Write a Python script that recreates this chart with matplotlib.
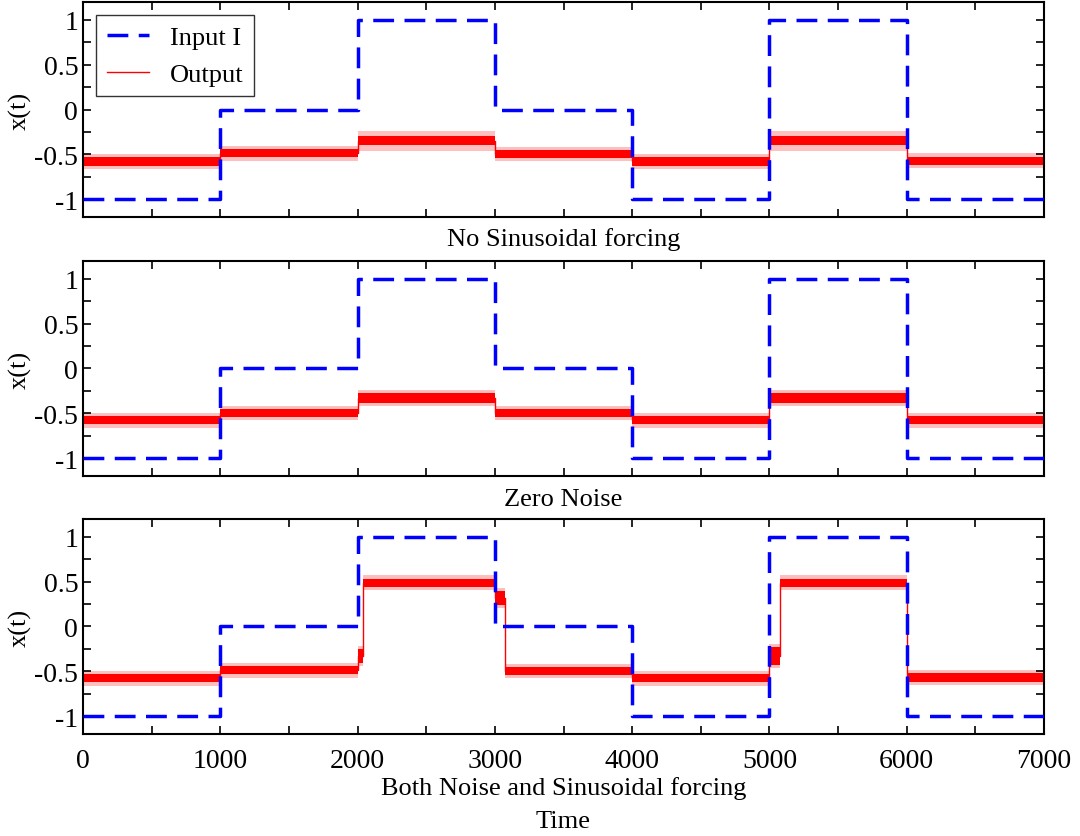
"""
Step input vs. noisy output, three forcing cases stacked.
"""
import numpy as np
import matplotlib.pyplot as plt
from matplotlib.ticker import MultipleLocator

plt.rcParams['font.family'] = ['Liberation Serif', 'DejaVu Serif']

# input signal (same in every panel)
in_edges = [0, 1000, 2000, 3000, 4000, 5000, 6000, 7000]
input_I = [-1, 0, 1, 0, -1, 1, -1]

# output, panel 1: no sinusoidal forcing
out1_edges = [0, 1000, 2000, 3000, 4000, 5000, 6000, 7000]
out1_mid = [-0.58, -0.49, -0.35, -0.50, -0.58, -0.35, -0.57]
out1_core = [0.045, 0.045, 0.05, 0.045, 0.045, 0.05, 0.045]
out1_spike = [0.08, 0.08, 0.11, 0.08, 0.08, 0.11, 0.08]

# output, panel 2: zero noise
out2_edges = [0, 1000, 2000, 3000, 4000, 5000, 6000, 7000]
out2_mid = [-0.58, -0.50, -0.33, -0.50, -0.58, -0.33, -0.58]
out2_core = [0.045, 0.045, 0.055, 0.045, 0.045, 0.055, 0.045]
out2_spike = [0.08, 0.08, 0.09, 0.08, 0.08, 0.09, 0.08]

# output, panel 3: both noise and sinusoidal forcing
out3_edges = [0, 1000, 2000, 2040, 3000, 3070, 4000, 5000, 5075, 6000, 7000]
out3_mid = [-0.58, -0.49, -0.33, 0.49, 0.32, -0.50, -0.58, -0.33, 0.49, -0.57]
out3_core = [0.045, 0.045, 0.08, 0.045, 0.08, 0.045, 0.045, 0.10, 0.045,
             0.045]
out3_spike = [0.08, 0.08, 0.11, 0.08, 0.11, 0.08, 0.08, 0.13, 0.08, 0.08]

panels = [
    (out1_edges, out1_mid, out1_core, out1_spike, 'No Sinusoidal forcing'),
    (out2_edges, out2_mid, out2_core, out2_spike, 'Zero Noise'),
    (out3_edges, out3_mid, out3_core, out3_spike,
     'Both Noise and Sinusoidal forcing'),
]

fig = plt.figure(figsize=(10.8, 8.37), dpi=100)
boxes = [(0.0769, 0.7395, 0.8898, 0.2569),
         (0.0769, 0.4301, 0.8898, 0.2569),
         (0.0769, 0.1219, 0.8898, 0.2569)]
label_y = [0.7133, 0.4026, 0.0585]

for i, (edges, mid, core, spike, name) in enumerate(panels):
    ax = fig.add_axes(boxes[i])
    e = np.array(edges, dtype=float)
    m = np.append(mid, mid[-1])
    c = np.append(core, core[-1])
    s = np.append(spike, spike[-1])

    ax.fill_between(e, m - s, m + s, step='post', color='red',
                    alpha=0.25, lw=0)
    ax.fill_between(e, m - c, m + c, step='post', color='red', lw=0)
    ax.step(e, m, where='post', color='red', lw=1, label='Output')

    ii = np.append(input_I, input_I[-1])
    ax.step(in_edges, ii, where='post', color='blue', lw=2.5,
            dashes=(6, 3), label='Input I', zorder=3)

    ax.set_xlim(0, 7000)
    ax.set_ylim(-1.2, 1.2)
    ax.xaxis.set_major_locator(MultipleLocator(1000))
    ax.xaxis.set_minor_locator(MultipleLocator(500))
    ax.yaxis.set_minor_locator(MultipleLocator(0.25))
    ax.set_yticks([-1, -0.5, 0, 0.5, 1])
    ax.set_yticklabels(['-1', '-0.5', '0', '0.5', '1'])
    ax.tick_params(which='both', direction='in', top=True, right=True,
                   length=6, width=1.2, labelsize=20)
    if i < 2:
        ax.tick_params(labelbottom=False)
    else:
        ax.tick_params(axis='x', pad=10)
    for sp in ax.spines.values():
        sp.set_linewidth(1.5)
    ax.set_ylabel('x(t)', fontsize=19, labelpad=2)
    fig.text(0.5216, label_y[i], name, ha='center', va='center',
             fontsize=19)

    if i == 0:
        h, l = ax.get_legend_handles_labels()
        leg = ax.legend(h[::-1], l[::-1], loc='upper left', fontsize=19,
                        fancybox=False, edgecolor='black',
                        handlelength=1.6, handletextpad=0.8,
                        borderaxespad=0.5)
        leg.get_frame().set_linewidth(1.0)

fig.text(0.5216, 0.018, 'Time', ha='center', va='center', fontsize=19)

fig.savefig('out.png', dpi=100)
